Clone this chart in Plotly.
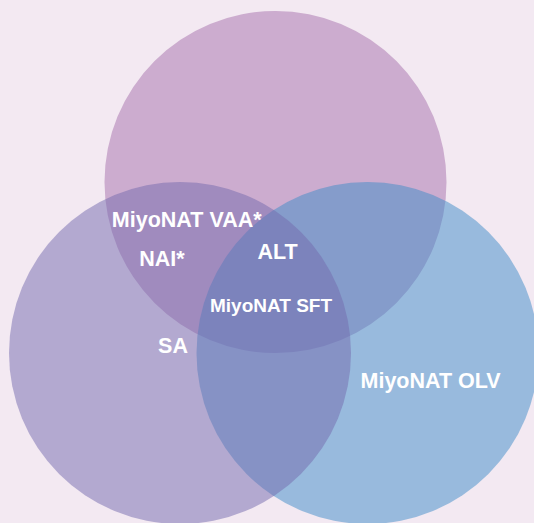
import plotly.graph_objects as go

# Sets (drawing order: top, right, left)
set_names = ["Top", "Right", "Left"]
set_cx = [275.5, 367.5, 180.0]
set_cy = [182.0, 353.0, 353.0]
set_r = [171.0, 171.0, 171.0]
set_colors = ["#a56fab", "#3d8bc7", "#7369ad"]

# Region labels
labels = ["MiyoNAT VAA*", "NAI*", "ALT", "MiyoNAT SFT", "SA", "MiyoNAT OLV"]
label_x = [186.7, 162.0, 277.5, 271.0, 173.0, 430.6]
label_y = [221.5, 261.0, 254.0, 307.0, 348.0, 383.0]
label_size = [21.5, 21.5, 21.5, 19, 21.5, 21.5]

BG = "#f3e9f2"
W, H = 534, 523

fig = go.Figure()

for cx, cy, r, c in zip(set_cx, set_cy, set_r, set_colors):
    fig.add_shape(type="circle", xref="x", yref="y",
                  x0=cx - r, x1=cx + r, y0=cy - r, y1=cy + r,
                  fillcolor=c, opacity=0.5, line=dict(width=0), layer="below")

fig.add_trace(go.Scatter(
    x=label_x, y=label_y, text=labels, mode="text",
    textposition="middle center",
    textfont=dict(family="Liberation Sans, Arial, sans-serif", size=label_size,
                  color="white", weight="bold"),
    hoverinfo="skip", showlegend=False))

fig.update_layout(
    width=W, height=H, autosize=False,
    margin=dict(l=0, r=0, t=0, b=0),
    paper_bgcolor=BG, plot_bgcolor=BG,
    xaxis=dict(range=[0, W], visible=False, fixedrange=True),
    yaxis=dict(range=[H, 0], visible=False, fixedrange=True),
    showlegend=False,
)

fig.write_html("out.html", config={"displayModeBar": False},
               post_script="document.body.style.margin='0';document.body.style.overflow='hidden';document.body.style.background='" + BG + "';")
